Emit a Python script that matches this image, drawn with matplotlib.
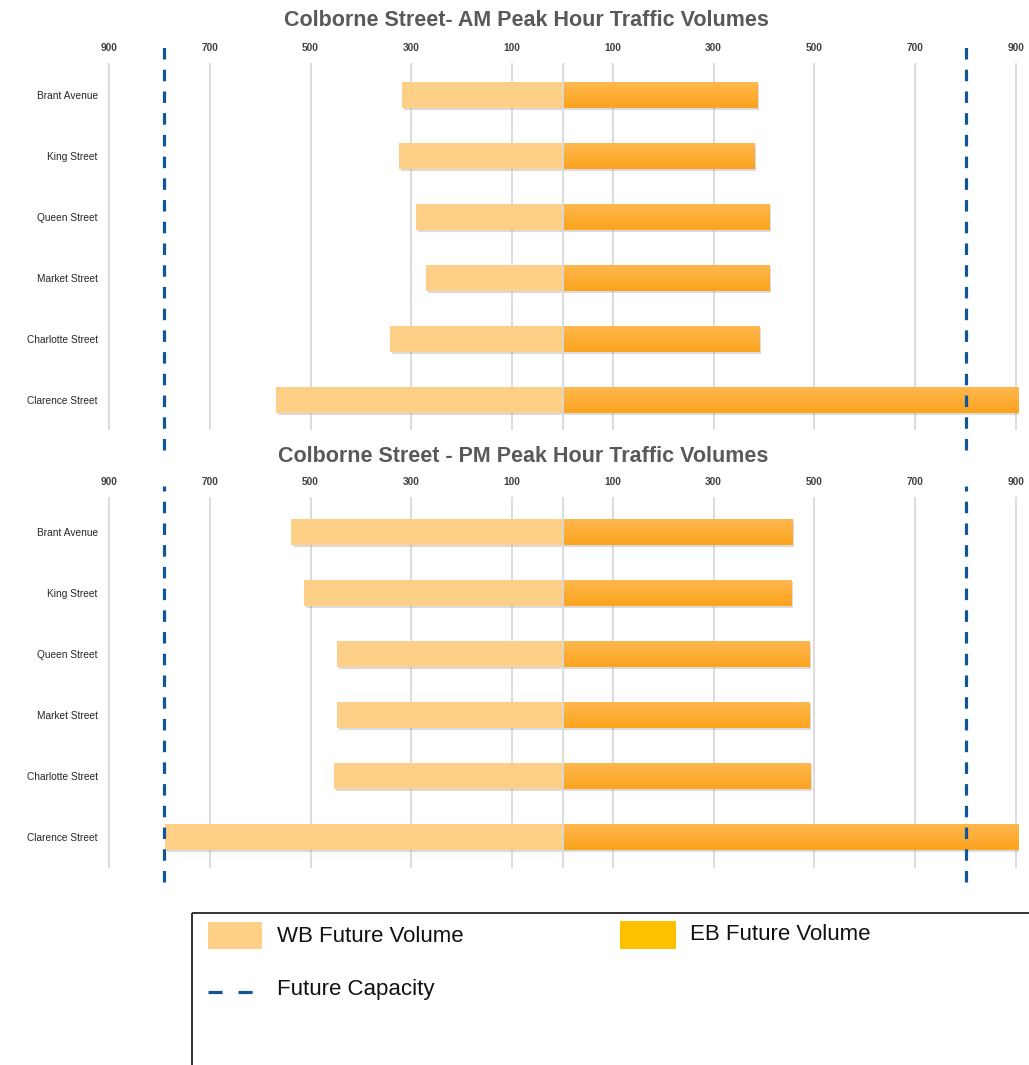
import numpy as np
import matplotlib
matplotlib.use("Agg")
import matplotlib.pyplot as plt
from matplotlib import patheffects as pe
from matplotlib.patches import Rectangle
from matplotlib.colors import LinearSegmentedColormap

# ---- data -------------------------------------------------------------
streets = ["Brant Avenue", "King Street", "Queen Street",
           "Market Street", "Charlotte Street", "Clarence Street"]
am_wb = [318, 324, 291, 271, 342, 568]
am_eb = [386, 380, 410, 410, 390, 905]
pm_wb = [539, 513, 447, 447, 453, 789]
pm_eb = [455, 453, 489, 489, 491, 905]
wb_capacity = 790
eb_capacity = 800
tick_values = [-900, -700, -500, -300, -100, 100, 300, 500, 700, 900]
tick_labels = [str(abs(v)) for v in tick_values]
titles = ["Colborne Street- AM Peak Hour Traffic Volumes",
          "Colborne Street - PM Peak Hour Traffic Volumes"]
legend_labels = ["WB Future Volume", "EB Future Volume", "Future Capacity"]

# ---- style ------------------------------------------------------------
WB_COLOR = "#FECF86"
EB_TOP, EB_BOTTOM = "#FFB84F", "#FBA41E"
EB_LEGEND = "#FFC000"
CAP_COLOR = "#0F5597"
GRID_COLOR = "#D9D9D9"
TITLE_COLOR = "#595959"
SANS = ["Liberation Sans", "DejaVu Sans"]

W, H = 1029, 1065
fig = plt.figure(figsize=(W / 100, H / 100), dpi=100)

eb_cmap = LinearSegmentedColormap.from_list("eb", [EB_TOP, EB_BOTTOM])
shadow = [pe.SimplePatchShadow(offset=(1.4, -1.6), shadow_rgbFace="#8a8a8a",
                               alpha=0.3), pe.Normal()]


def px_axes(left, top, right, bottom):
    return fig.add_axes([left / W, 1 - bottom / H, (right - left) / W,
                         (bottom - top) / H])


def draw_panel(ax, wb, eb, ylim, cap_span):
    n = len(streets)
    y = np.arange(n)
    bh = 0.43
    for v in tick_values:
        ax.axvline(v, color=GRID_COLOR, lw=1.3, zorder=0)
    wb_bars = ax.barh(y, [-v for v in wb], height=bh, color=WB_COLOR,
                      zorder=2)
    eb_bars = ax.barh(y, eb, height=bh, color=EB_BOTTOM, zorder=2)
    for b in list(wb_bars) + list(eb_bars):
        b.set_path_effects(shadow)
    # vertical gradient on the eastbound bars
    grad = np.linspace(0, 1, 64).reshape(-1, 1)
    for b in eb_bars:
        x0, y0 = b.get_x(), b.get_y()
        im = ax.imshow(grad, cmap=eb_cmap, aspect="auto",
                       extent=(x0, x0 + b.get_width(), y0 + b.get_height(), y0),
                       zorder=2.5, interpolation="bilinear")
        im.set_clip_path(b)
    ax.set_xlim(-906, 906)
    ax.set_ylim(*ylim)
    ax.axvline(0, color=GRID_COLOR, lw=1.3, zorder=3)
    # capacity lines
    for cap in (-wb_capacity, eb_capacity):
        ax.axvline(cap, ymin=cap_span[0], ymax=cap_span[1], color=CAP_COLOR,
                   lw=2.3, linestyle=(0, (3.6, 3.2)), zorder=4, clip_on=False)
    ax.set_yticks(y)
    ax.set_yticklabels(streets, fontsize=7.3, color="#262626", family=SANS)
    ax.xaxis.tick_top()
    ax.set_xticks(tick_values)
    ax.set_xticklabels(tick_labels, fontsize=7.3, fontweight="bold",
                       color="#404040", family=SANS)
    ax.tick_params(axis="both", length=0)
    ax.tick_params(axis="x", pad=7)
    ax.tick_params(axis="y", pad=6)
    for s in ax.spines.values():
        s.set_visible(False)


ax_am = px_axes(106, 63, 1019, 430)
draw_panel(ax_am, am_wb, am_eb, (5 + 30 / 61, -32 / 61), (-0.054, 1.063))

ax_pm = px_axes(106, 497, 1019, 868)
draw_panel(ax_pm, pm_wb, pm_eb, (5 + 31 / 61, -35 / 61), (-0.038, 1.03))

fig.text(526 / W, 1 - 20 / H, titles[0], ha="center", va="center",
         fontsize=15.5, fontweight="bold", color=TITLE_COLOR, family=SANS)
fig.text(523 / W, 1 - 457 / H, titles[1], ha="center", va="center",
         fontsize=15.5, fontweight="bold", color=TITLE_COLOR, family=SANS)

# ---- legend box ---------------------------------------------------------
lg = fig.add_axes([0, 0, 1, 1], zorder=5)
lg.set_xlim(0, W)
lg.set_ylim(H, 0)
lg.axis("off")
lg.add_patch(Rectangle((192, 913), 900, 200, fill=False, edgecolor="#333333",
                       lw=1.4))
lg.add_patch(Rectangle((208, 922), 54, 27, color=WB_COLOR, lw=0))
lg.text(277, 936, legend_labels[0], fontsize=16, va="center", ha="left",
        color="#111111", family=SANS)
lg.add_patch(Rectangle((620, 921), 56, 28, color=EB_LEGEND, lw=0))
lg.text(690, 934, legend_labels[1], fontsize=16, va="center", ha="left",
        color="#111111", family=SANS)
lg.plot([208, 253], [992, 992], color=CAP_COLOR, lw=2.3,
        linestyle=(0, (4.4, 5.0)), solid_capstyle="butt")
lg.text(277, 990, legend_labels[2], fontsize=16, va="center", ha="left",
        color="#111111", family=SANS)

fig.savefig("out.png", dpi=100, facecolor="white")
